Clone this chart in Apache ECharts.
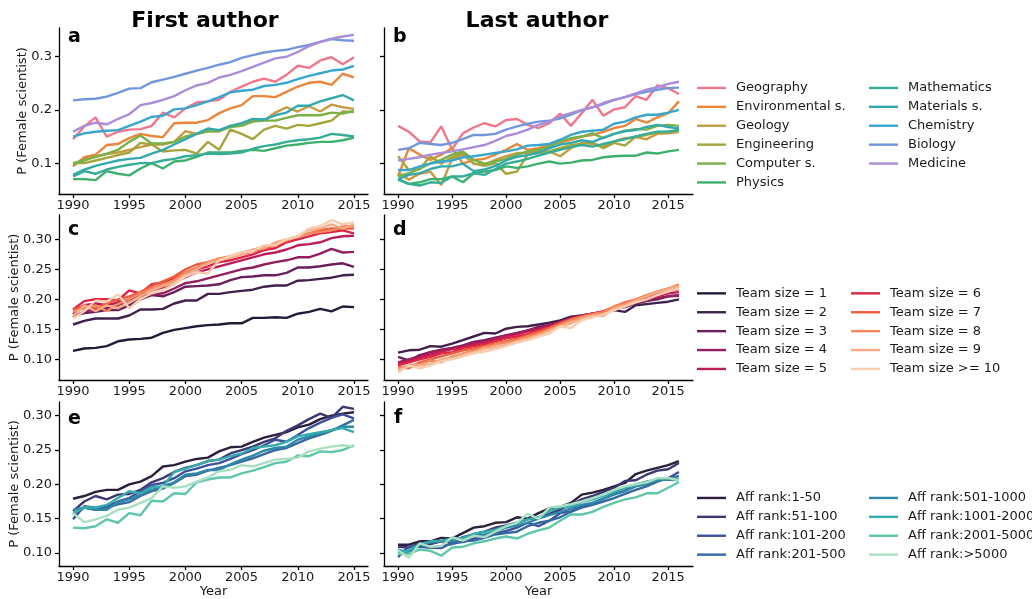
<!DOCTYPE html>
<html>
<head>
<meta charset="utf-8">
<script src="https://cdn.jsdelivr.net/npm/echarts@6/dist/echarts.min.js"></script>
<style>
  html, body { margin: 0; padding: 0; background: #fff; }
  #chart { width: 1032px; height: 599px; }
</style>
</head>
<body>
<div id="chart"></div>
<script>
// Years covered by the first-author and last-author panels
const yearsFirst = [1990,1991,1992,1993,1994,1995,1996,1997,1998,1999,2000,2001,2002,2003,2004,2005,2006,2007,2008,2009,2010,2011,2012,2013,2014,2015];
const yearsLast  = [1990,1991,1992,1993,1994,1995,1996,1997,1998,1999,2000,2001,2002,2003,2004,2005,2006,2007,2008,2009,2010,2011,2012,2013,2014,2015,2016];
const yearTicks = [1990, 1995, 2000, 2005, 2010, 2015];

// Fields
const fieldNames = ['Geography','Environmental s.','Geology','Engineering','Computer s.','Physics','Mathematics','Materials s.','Chemistry','Biology','Medicine'];
const fieldColors = ['#f0778b','#ec853a','#c69b42','#a6a53b','#79b047','#3db06d','#36ad96','#34a9ad','#39a6ce','#7296db','#a98dd8'];

const fieldFirst = [
  [0.145,0.169,0.186,0.150,0.159,0.163,0.164,0.170,0.195,0.186,0.203,0.214,0.216,0.219,0.234,0.244,0.253,0.259,0.253,0.266,0.283,0.279,0.293,0.299,0.286,0.299],
  [0.094,0.111,0.116,0.134,0.136,0.147,0.155,0.151,0.149,0.175,0.176,0.176,0.181,0.194,0.203,0.209,0.226,0.226,0.224,0.234,0.244,0.251,0.253,0.247,0.268,0.261],
  [0.097,0.108,0.112,0.117,0.120,0.125,0.130,0.135,0.135,0.140,0.160,0.155,0.160,0.160,0.170,0.172,0.180,0.180,0.195,0.205,0.197,0.207,0.197,0.210,0.205,0.202],
  [0.100,0.100,0.105,0.110,0.115,0.120,0.138,0.135,0.122,0.124,0.125,0.118,0.140,0.125,0.163,0.155,0.145,0.163,0.170,0.165,0.172,0.170,0.175,0.180,0.197,0.196],
  [0.100,0.105,0.112,0.118,0.125,0.140,0.152,0.137,0.137,0.140,0.150,0.155,0.160,0.160,0.168,0.170,0.178,0.180,0.180,0.185,0.190,0.190,0.190,0.195,0.193,0.198],
  [0.070,0.070,0.068,0.085,0.080,0.077,0.090,0.100,0.090,0.103,0.105,0.112,0.120,0.120,0.120,0.123,0.125,0.123,0.128,0.133,0.135,0.138,0.140,0.140,0.143,0.148],
  [0.075,0.085,0.080,0.088,0.093,0.097,0.100,0.100,0.105,0.108,0.113,0.115,0.118,0.117,0.118,0.120,0.127,0.132,0.135,0.140,0.143,0.145,0.148,0.155,0.153,0.150],
  [0.078,0.088,0.095,0.100,0.105,0.108,0.110,0.118,0.125,0.135,0.145,0.155,0.165,0.162,0.170,0.175,0.183,0.182,0.190,0.195,0.208,0.208,0.216,0.222,0.228,0.218],
  [0.150,0.156,0.159,0.161,0.162,0.170,0.178,0.187,0.189,0.201,0.203,0.209,0.216,0.224,0.233,0.236,0.238,0.245,0.247,0.251,0.258,0.264,0.269,0.274,0.276,0.283],
  [0.218,0.220,0.221,0.225,0.232,0.240,0.241,0.252,0.257,0.262,0.268,0.274,0.279,0.285,0.290,0.298,0.303,0.308,0.311,0.313,0.318,0.322,0.328,0.333,0.331,0.330],
  [0.159,0.170,0.176,0.173,0.183,0.192,0.209,0.213,0.219,0.226,0.237,0.246,0.251,0.261,0.266,0.273,0.281,0.289,0.297,0.300,0.309,0.320,0.328,0.334,0.338,0.341]
];

const fieldLast = [
  [0.170,0.159,0.141,0.139,0.169,0.126,0.156,0.167,0.175,0.169,0.181,0.183,0.172,0.166,0.175,0.193,0.170,0.194,0.219,0.189,0.201,0.205,0.226,0.219,0.246,0.241,0.230],
  [0.075,0.128,0.116,0.106,0.116,0.128,0.099,0.106,0.108,0.116,0.125,0.136,0.125,0.128,0.134,0.139,0.144,0.150,0.153,0.159,0.166,0.170,0.183,0.176,0.186,0.194,0.216],
  [0.082,0.069,0.080,0.084,0.059,0.108,0.116,0.099,0.097,0.106,0.113,0.119,0.119,0.122,0.122,0.113,0.128,0.138,0.136,0.131,0.141,0.147,0.149,0.145,0.155,0.156,0.159],
  [0.113,0.087,0.089,0.113,0.099,0.111,0.120,0.099,0.095,0.100,0.080,0.084,0.116,0.119,0.122,0.128,0.134,0.136,0.139,0.128,0.138,0.133,0.150,0.153,0.158,0.159,0.159],
  [0.075,0.081,0.089,0.100,0.106,0.116,0.122,0.106,0.099,0.103,0.108,0.116,0.122,0.125,0.131,0.141,0.147,0.150,0.156,0.147,0.155,0.161,0.164,0.163,0.170,0.172,0.170],
  [0.070,0.061,0.064,0.070,0.070,0.075,0.064,0.081,0.084,0.087,0.094,0.091,0.094,0.099,0.103,0.099,0.101,0.105,0.106,0.111,0.113,0.114,0.114,0.120,0.118,0.122,0.125],
  [0.069,0.061,0.058,0.064,0.063,0.075,0.075,0.081,0.078,0.089,0.099,0.103,0.108,0.114,0.120,0.125,0.130,0.134,0.131,0.136,0.141,0.145,0.150,0.155,0.159,0.159,0.163],
  [0.070,0.078,0.081,0.089,0.094,0.094,0.099,0.085,0.088,0.095,0.105,0.112,0.115,0.120,0.128,0.135,0.138,0.143,0.140,0.148,0.155,0.160,0.162,0.168,0.172,0.168,0.165],
  [0.087,0.087,0.094,0.099,0.103,0.105,0.111,0.113,0.116,0.119,0.122,0.126,0.133,0.134,0.136,0.144,0.153,0.159,0.161,0.163,0.174,0.178,0.186,0.191,0.191,0.195,0.200],
  [0.125,0.128,0.138,0.136,0.134,0.138,0.145,0.153,0.153,0.155,0.163,0.169,0.174,0.178,0.180,0.184,0.191,0.199,0.205,0.211,0.219,0.224,0.230,0.234,0.238,0.241,0.242],
  [0.105,0.108,0.111,0.116,0.119,0.122,0.126,0.130,0.134,0.142,0.151,0.156,0.163,0.172,0.178,0.188,0.194,0.200,0.205,0.213,0.219,0.224,0.231,0.238,0.243,0.249,0.253]
];

// Team sizes
const teamNames = ['Team size = 1','Team size = 2','Team size = 3','Team size = 4','Team size = 5','Team size = 6','Team size = 7','Team size = 8','Team size = 9','Team size >= 10'];
const teamColors = ['#221a37','#40214b','#6a1f5d','#931f5f','#bc1d57','#de2548','#ee5b3d','#f4875c','#f6ab84','#f8cdb0'];

const teamFirst = [
  [0.114,0.118,0.119,0.122,0.130,0.133,0.134,0.136,0.144,0.149,0.152,0.155,0.157,0.158,0.160,0.160,0.169,0.169,0.170,0.169,0.176,0.179,0.184,0.180,0.188,0.187],
  [0.158,0.164,0.168,0.168,0.168,0.173,0.183,0.183,0.184,0.193,0.198,0.198,0.209,0.209,0.212,0.214,0.216,0.221,0.223,0.223,0.231,0.232,0.234,0.236,0.240,0.241],
  [0.172,0.177,0.179,0.182,0.182,0.190,0.200,0.207,0.205,0.212,0.221,0.222,0.223,0.225,0.232,0.237,0.238,0.240,0.240,0.244,0.253,0.253,0.255,0.258,0.260,0.254],
  [0.170,0.180,0.183,0.185,0.190,0.198,0.205,0.208,0.210,0.218,0.227,0.230,0.235,0.240,0.245,0.250,0.253,0.258,0.262,0.265,0.270,0.270,0.276,0.284,0.278,0.279],
  [0.175,0.190,0.193,0.190,0.195,0.200,0.210,0.215,0.220,0.228,0.237,0.245,0.250,0.255,0.260,0.265,0.270,0.275,0.278,0.283,0.290,0.292,0.295,0.302,0.305,0.306],
  [0.183,0.197,0.200,0.200,0.198,0.215,0.210,0.225,0.228,0.235,0.245,0.250,0.255,0.262,0.265,0.270,0.275,0.282,0.285,0.295,0.300,0.305,0.310,0.312,0.315,0.310],
  [0.182,0.190,0.185,0.193,0.200,0.205,0.212,0.222,0.230,0.238,0.250,0.258,0.262,0.266,0.270,0.275,0.280,0.285,0.290,0.298,0.305,0.310,0.315,0.318,0.318,0.318],
  [0.180,0.185,0.190,0.180,0.192,0.200,0.210,0.218,0.225,0.232,0.245,0.253,0.262,0.268,0.272,0.278,0.282,0.288,0.292,0.298,0.305,0.310,0.312,0.315,0.322,0.322],
  [0.172,0.190,0.180,0.190,0.185,0.195,0.205,0.215,0.222,0.228,0.240,0.250,0.260,0.265,0.270,0.275,0.283,0.285,0.295,0.300,0.305,0.315,0.318,0.325,0.318,0.325],
  [0.168,0.180,0.198,0.196,0.208,0.185,0.200,0.210,0.215,0.225,0.238,0.245,0.243,0.265,0.272,0.278,0.280,0.290,0.290,0.300,0.305,0.318,0.322,0.332,0.325,0.328]
];

// Last-author team curves start at team size 2
const teamLast = [
  [0.111,0.115,0.116,0.122,0.121,0.126,0.132,0.138,0.144,0.143,0.151,0.154,0.155,0.158,0.161,0.165,0.171,0.173,0.176,0.177,0.182,0.179,0.190,0.192,0.194,0.196,0.200],
  [0.104,0.098,0.107,0.112,0.116,0.119,0.123,0.129,0.132,0.136,0.140,0.144,0.148,0.154,0.157,0.162,0.169,0.173,0.176,0.179,0.184,0.187,0.193,0.197,0.200,0.205,0.207],
  [0.095,0.100,0.105,0.112,0.115,0.118,0.122,0.128,0.130,0.135,0.140,0.142,0.148,0.152,0.157,0.162,0.168,0.172,0.175,0.178,0.183,0.188,0.195,0.198,0.202,0.205,0.206],
  [0.093,0.097,0.103,0.108,0.113,0.117,0.120,0.125,0.128,0.133,0.138,0.142,0.146,0.150,0.155,0.162,0.168,0.172,0.176,0.180,0.185,0.190,0.197,0.200,0.205,0.210,0.212],
  [0.090,0.095,0.100,0.104,0.110,0.112,0.118,0.122,0.125,0.130,0.135,0.138,0.142,0.148,0.154,0.160,0.166,0.172,0.176,0.180,0.186,0.192,0.198,0.203,0.208,0.213,0.217],
  [0.087,0.085,0.095,0.100,0.105,0.110,0.115,0.118,0.122,0.127,0.130,0.135,0.140,0.146,0.152,0.160,0.167,0.172,0.175,0.180,0.188,0.195,0.200,0.206,0.212,0.217,0.222],
  [0.085,0.090,0.092,0.098,0.095,0.105,0.110,0.115,0.120,0.125,0.128,0.132,0.138,0.142,0.150,0.158,0.165,0.170,0.175,0.178,0.188,0.193,0.200,0.207,0.213,0.218,0.225],
  [0.082,0.088,0.090,0.092,0.100,0.103,0.108,0.112,0.118,0.120,0.125,0.130,0.135,0.140,0.148,0.155,0.160,0.168,0.173,0.172,0.185,0.190,0.198,0.205,0.212,0.217,0.222],
  [0.078,0.090,0.085,0.090,0.097,0.100,0.105,0.110,0.113,0.117,0.122,0.128,0.132,0.138,0.143,0.155,0.152,0.165,0.170,0.175,0.182,0.188,0.195,0.200,0.207,0.213,0.218]
];

// Affiliation ranks
const affNames = ['Aff rank:1-50','Aff rank:51-100','Aff rank:101-200','Aff rank:201-500','Aff rank:501-1000','Aff rank:1001-2000','Aff rank:2001-5000','Aff rank:>5000'];
const affColors = ['#2c1f3b','#3d3870','#3e509c','#3669a2','#2f88a8','#35abae','#5ec6aa','#abdfc1'];

const affFirst = [
  [0.179,0.183,0.189,0.192,0.192,0.200,0.204,0.212,0.226,0.228,0.233,0.237,0.239,0.248,0.254,0.255,0.262,0.268,0.272,0.276,0.283,0.287,0.295,0.300,0.303,0.305],
  [0.161,0.175,0.183,0.178,0.185,0.186,0.192,0.203,0.209,0.218,0.224,0.228,0.234,0.236,0.245,0.250,0.255,0.262,0.267,0.278,0.286,0.295,0.303,0.297,0.313,0.310],
  [0.149,0.168,0.166,0.168,0.175,0.180,0.190,0.199,0.202,0.209,0.219,0.223,0.228,0.231,0.237,0.244,0.250,0.257,0.265,0.262,0.272,0.282,0.290,0.297,0.302,0.296],
  [0.156,0.166,0.163,0.166,0.171,0.174,0.183,0.190,0.194,0.202,0.212,0.214,0.220,0.224,0.228,0.233,0.238,0.244,0.250,0.253,0.260,0.267,0.272,0.278,0.286,0.294],
  [0.163,0.166,0.163,0.163,0.174,0.178,0.185,0.192,0.197,0.203,0.214,0.216,0.221,0.221,0.229,0.236,0.242,0.249,0.253,0.255,0.265,0.270,0.274,0.279,0.284,0.284],
  [0.157,0.167,0.166,0.170,0.180,0.190,0.187,0.196,0.197,0.218,0.223,0.228,0.234,0.236,0.241,0.245,0.253,0.255,0.257,0.262,0.270,0.273,0.276,0.279,0.282,0.276],
  [0.137,0.136,0.139,0.149,0.144,0.158,0.155,0.176,0.175,0.187,0.186,0.203,0.207,0.210,0.210,0.216,0.220,0.225,0.231,0.233,0.242,0.241,0.248,0.247,0.250,0.257],
  [0.158,0.145,0.149,0.154,0.163,0.166,0.173,0.180,0.197,0.195,0.197,0.204,0.210,0.219,0.221,0.228,0.226,0.231,0.236,0.237,0.239,0.248,0.252,0.255,0.257,0.255]
];

const affLast = [
  [0.112,0.112,0.117,0.117,0.122,0.121,0.129,0.137,0.139,0.144,0.145,0.152,0.150,0.158,0.165,0.167,0.173,0.185,0.188,0.192,0.197,0.202,0.215,0.220,0.224,0.228,0.234],
  [0.109,0.108,0.114,0.113,0.117,0.116,0.123,0.127,0.131,0.137,0.140,0.144,0.149,0.152,0.157,0.163,0.171,0.178,0.183,0.189,0.195,0.205,0.206,0.214,0.220,0.222,0.231],
  [0.094,0.110,0.109,0.108,0.107,0.115,0.116,0.121,0.125,0.128,0.132,0.137,0.144,0.139,0.147,0.158,0.161,0.168,0.173,0.179,0.186,0.191,0.200,0.204,0.207,0.209,0.218],
  [0.103,0.103,0.110,0.108,0.110,0.113,0.117,0.118,0.122,0.127,0.129,0.131,0.139,0.144,0.147,0.152,0.160,0.166,0.170,0.175,0.180,0.186,0.192,0.197,0.204,0.209,0.212],
  [0.105,0.099,0.112,0.115,0.117,0.117,0.122,0.125,0.127,0.131,0.137,0.140,0.144,0.150,0.155,0.160,0.165,0.170,0.173,0.179,0.185,0.190,0.197,0.200,0.206,0.207,0.206],
  [0.100,0.104,0.113,0.117,0.118,0.121,0.122,0.128,0.131,0.134,0.139,0.144,0.149,0.152,0.161,0.166,0.168,0.174,0.178,0.183,0.189,0.195,0.199,0.203,0.208,0.209,0.208],
  [0.098,0.099,0.105,0.103,0.096,0.108,0.109,0.114,0.117,0.121,0.124,0.121,0.128,0.133,0.137,0.147,0.156,0.156,0.160,0.167,0.173,0.178,0.181,0.187,0.187,0.195,0.203],
  [0.104,0.093,0.114,0.109,0.110,0.123,0.118,0.125,0.123,0.131,0.139,0.144,0.157,0.150,0.166,0.168,0.171,0.175,0.180,0.185,0.192,0.197,0.200,0.203,0.209,0.209,0.206]
];

// Y tick values per row of panels
const yTicksTop = [0.1, 0.2, 0.3];
const yTicksMid = [0.10, 0.15, 0.20, 0.25, 0.30];
const yTicksBot = [0.10, 0.15, 0.20, 0.25, 0.30];

const FONT = 'DejaVu Sans';
const INK = '#1a1a1a';

// panel frames: [left, top, width, height]
const frames = [
  [59, 28, 309, 166], [384, 28, 309, 166],
  [59, 215, 309, 165], [384, 215, 309, 165],
  [59, 402, 309, 165], [384, 402, 309, 165]
];

const grids = frames.map(f => ({ left: f[0], top: f[1], width: f[2], height: f[3], containLabel: false }));

const axisLineStyle = { show: true, lineStyle: { color: '#000', width: 1.3 } };

function makeX(gi, isFirst, withName) {
  return {
    type: 'value', gridIndex: gi,
    min: isFirst ? 1988.75 : 1988.7,
    max: isFirst ? 2016.25 : 2017.3,
    axisLine: axisLineStyle,
    axisTick: { show: true, length: 4, lineStyle: { color: '#000', width: 1.3 }, customValues: yearTicks },
    axisLabel: { customValues: yearTicks, fontSize: 13, color: INK, fontFamily: FONT, margin: 5, formatter: v => String(v) },
    splitLine: { show: false },
    name: withName ? 'Year' : '',
    nameLocation: 'middle', nameGap: 19, nameMoveOverlap: false,
    nameTextStyle: { fontSize: 13, color: INK, fontFamily: FONT }
  };
}

function makeY(gi, min, max, ticks, digits, isLeft, gap) {
  return {
    type: 'value', gridIndex: gi, min: min, max: max,
    axisLine: axisLineStyle,
    axisTick: { show: true, length: 4, lineStyle: { color: '#000', width: 1.3 }, customValues: ticks },
    axisLabel: { show: isLeft, customValues: ticks, fontSize: 13, color: INK, fontFamily: FONT, margin: 7, formatter: v => v.toFixed(digits) },
    splitLine: { show: false },
    name: isLeft ? 'P (Female scientist)' : '',
    nameLocation: 'middle', nameRotate: 90, nameGap: gap, nameMoveOverlap: false,
    nameTextStyle: { fontSize: 13, color: INK, fontFamily: FONT }
  };
}

const xAxes = [
  makeX(0, true, false), makeX(1, false, false),
  makeX(2, true, false), makeX(3, false, false),
  makeX(4, true, true), makeX(5, false, true)
];
const yAxes = [
  makeY(0, 0.042, 0.354, yTicksTop, 1, true, 30), makeY(1, 0.042, 0.354, yTicksTop, 1, false, 30),
  makeY(2, 0.0655, 0.3405, yTicksMid, 2, true, 38), makeY(3, 0.0655, 0.3405, yTicksMid, 2, false, 38),
  makeY(4, 0.081, 0.320, yTicksBot, 2, true, 38), makeY(5, 0.081, 0.320, yTicksBot, 2, false, 38)
];

const series = [];
function addLines(panel, years, rows, names, colors) {
  rows.forEach((vals, i) => {
    series.push({
      type: 'line', name: names[i], xAxisIndex: panel, yAxisIndex: panel,
      data: years.map((y, k) => [y, vals[k]]),
      showSymbol: false, symbol: 'none', smooth: false,
      color: colors[i],
      lineStyle: { color: colors[i], width: 2.4 },
      emphasis: { disabled: true },
      z: 2
    });
  });
}
addLines(0, yearsFirst, fieldFirst, fieldNames, fieldColors);
addLines(1, yearsLast, fieldLast, fieldNames, fieldColors);
addLines(2, yearsFirst, teamFirst, teamNames, teamColors);
addLines(3, yearsLast, teamLast, teamNames.slice(1), teamColors.slice(1));
addLines(4, yearsFirst, affFirst, affNames, affColors);
addLines(5, yearsLast, affLast, affNames, affColors);

function legendCol(left, top, names) {
  return {
    left: left, top: top, orient: 'vertical', padding: 0, itemGap: 0,
    icon: 'rect', itemWidth: 29, itemHeight: 2.4, selectedMode: false,
    data: names,
    textStyle: { fontSize: 13, color: INK, fontFamily: FONT, lineHeight: 18.9, padding: [0, 0, 0, 5] }
  };
}

const legends = [
  legendCol(697, 78.5, fieldNames.slice(0, 6)),
  legendCol(869, 78.5, fieldNames.slice(6)),
  legendCol(697, 283.9, teamNames.slice(0, 5)),
  legendCol(851, 283.9, teamNames.slice(5)),
  legendCol(697, 488.5, affNames.slice(0, 4)),
  legendCol(869, 488.5, affNames.slice(4))
];

function label(text, x, y, size, align) {
  return {
    type: 'text', x: x, y: y, silent: true, z: 10,
    style: { text: text, font: 'bold ' + size + 'px "' + FONT + '"', fill: '#000', align: align, verticalAlign: 'middle' }
  };
}

const graphics = [
  label('First author', 205, 21, 22, 'center'),
  label('Last author', 537, 21, 22, 'center'),
  label('a', 68, 37, 19, 'left'),
  label('b', 393, 37.5, 19, 'left'),
  label('c', 68, 230, 19, 'left'),
  label('d', 393, 230, 19, 'left'),
  label('e', 68, 419.5, 19, 'left'),
  label('f', 394, 418.5, 19, 'left')
];

const chart = echarts.init(document.getElementById('chart'), null, { renderer: 'canvas' });
chart.setOption({
  animation: false,
  backgroundColor: '#fff',
  textStyle: { fontFamily: FONT },
  grid: grids,
  xAxis: xAxes,
  yAxis: yAxes,
  legend: legends,
  series: series,
  graphic: graphics
});
</script>
</body>
</html>
